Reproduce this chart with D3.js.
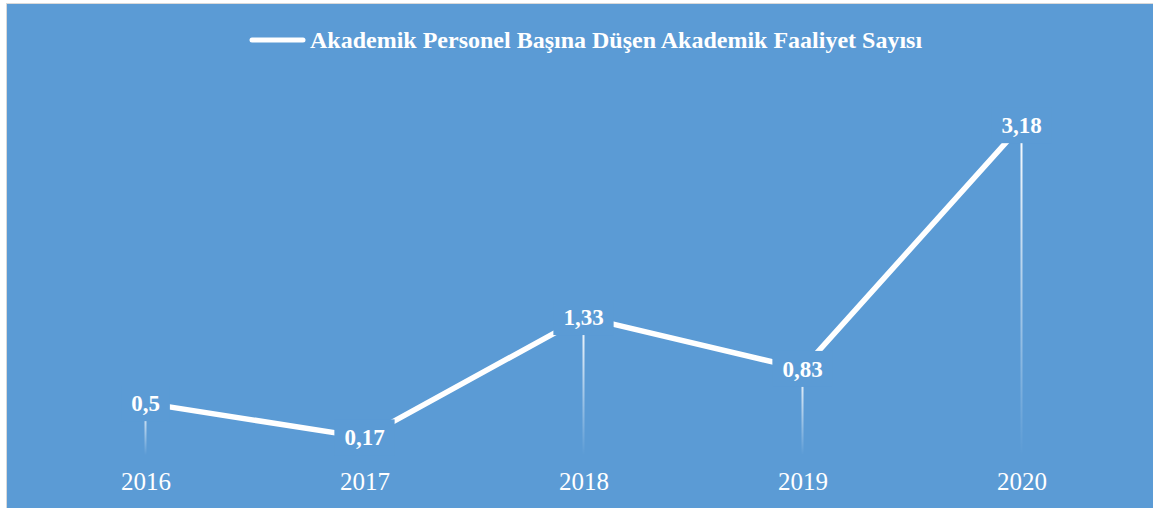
<!DOCTYPE html>
<html>
<head>
<meta charset="utf-8">
<script src="https://cdn.jsdelivr.net/npm/d3@7"></script>
<style>
  body { margin: 0; background: #fff; }
  text { font-family: "Liberation Serif", "Times New Roman", serif; fill: #fff; }
</style>
</head>
<body>
<div id="chart"></div>
<script>
// values
var years = ["2016", "2017", "2018", "2019", "2020"];
var values = [0.5, 0.17, 1.33, 0.83, 3.18];
var valueLabels = ["0,5", "0,17", "1,33", "0,83", "3,18"];
var seriesName = "Akademik Personel Başına Düşen Akademik Faaliyet Sayısı";

var width = 1153, height = 508;
var bg = "#5b9bd5";

var data = years.map(function (y, i) {
  return { year: y, value: values[i], label: valueLabels[i] };
});

var svg = d3.select("#chart")
  .append("svg")
  .attr("width", width)
  .attr("height", height);

// chart area with thin grey border
svg.append("rect")
  .attr("x", 6.5).attr("y", 3.5)
  .attr("width", width).attr("height", height)
  .attr("fill", bg)
  .attr("stroke", "#d9d9d9")
  .attr("stroke-width", 1);

var xScale = d3.scalePoint()
  .domain(years)
  .range([36, 1131])
  .padding(0.5);

var yScale = d3.scaleLinear()
  .domain([0, 3.5])
  .range([455, 92]);

// gradient for the drop lines
var defs = svg.append("defs");
var grad = defs.append("linearGradient")
  .attr("id", "dropGrad")
  .attr("x1", 0).attr("y1", 0).attr("x2", 0).attr("y2", 1);
grad.append("stop").attr("offset", "0%").attr("stop-color", "#fff").attr("stop-opacity", 1);
grad.append("stop").attr("offset", "100%").attr("stop-color", "#fff").attr("stop-opacity", 0);

// drop lines
svg.selectAll(".drop")
  .data(data).enter()
  .append("rect")
  .attr("class", "drop")
  .attr("x", function (d) { return xScale(d.year) - 1; })
  .attr("y", function (d) { return yScale(d.value); })
  .attr("width", 2)
  .attr("height", function (d) { return yScale(0) - yScale(d.value); })
  .attr("fill", "url(#dropGrad)");

// x axis labels
var xAxis = d3.axisBottom(xScale).tickSize(0).tickPadding(0);
var gx = svg.append("g")
  .attr("transform", "translate(0,472)")
  .call(xAxis);
gx.select(".domain").remove();
gx.selectAll("text")
  .attr("dy", "0.71em")
  .style("font-family", "'Liberation Serif', serif")
  .style("font-size", "25px")
  .attr("fill", "#fff");

// series line
var line = d3.line()
  .x(function (d) { return xScale(d.year); })
  .y(function (d) { return yScale(d.value); });

svg.append("path")
  .datum(data)
  .attr("d", line)
  .attr("fill", "none")
  .attr("stroke", "#fff")
  .attr("stroke-width", 5.5)
  .attr("stroke-linejoin", "round");

// data labels with background boxes hiding the line
var labels = svg.selectAll(".lbl")
  .data(data).enter()
  .append("g")
  .attr("class", "lbl");

labels.append("rect").attr("fill", bg);
labels.append("text")
  .attr("x", function (d) { return xScale(d.year); })
  .attr("y", function (d) { return yScale(d.value); })
  .attr("dy", "0.35em")
  .attr("text-anchor", "middle")
  .style("font-size", "23px")
  .style("font-weight", "bold")
  .text(function (d) { return d.label; });

labels.each(function (d) {
  var g = d3.select(this);
  var w = g.select("text").node().getComputedTextLength();
  g.select("rect")
    .attr("x", xScale(d.year) - w / 2 - 10)
    .attr("y", yScale(d.value) - 18)
    .attr("width", w + 20)
    .attr("height", 36);
});

// legend on top
var legend = svg.append("g");
legend.append("line")
  .attr("x1", 252).attr("x2", 303)
  .attr("y1", 40).attr("y2", 40)
  .attr("stroke", "#fff")
  .attr("stroke-width", 5)
  .attr("stroke-linecap", "round");
legend.append("text")
  .attr("x", 310)
  .attr("y", 48)
  .style("font-size", "24px")
  .style("font-weight", "bold")
  .text(seriesName);
</script>
</body>
</html>
